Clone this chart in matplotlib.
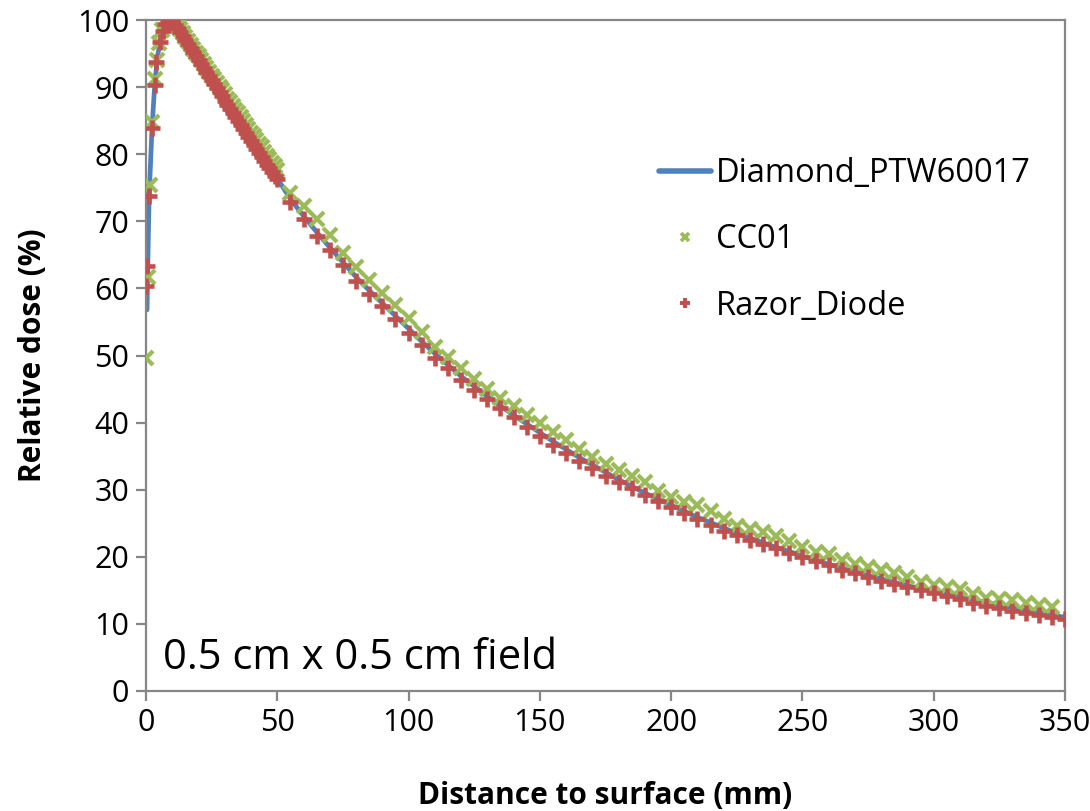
import matplotlib
matplotlib.use("Agg")
import matplotlib.pyplot as plt
from matplotlib.lines import Line2D

# ---------------- data ----------------
# Diamond_PTW60017 (line)
diamond_depth = [0.4, 0.6, 1.2, 2.3, 3.4, 4.5, 5.5, 6.5, 7.5, 8.5, 9.5, 10.5, 12, 15, 20, 25, 30, 35, 40, 45, 50,
                 55, 60, 65, 70, 75, 80, 85, 90, 95, 100, 105, 110, 115, 120, 125, 130, 135, 140, 145, 150,
                 155, 160, 165, 170, 175, 180, 185, 190, 195, 200, 205, 210, 215, 220, 225, 230, 235, 240, 245, 250,
                 255, 260, 265, 270, 275, 280, 285, 290, 295, 300, 305, 310, 315, 320, 325, 330, 335, 340, 345, 350]
diamond_dose = [56.8, 62.0, 73.8, 84.0, 90.8, 94.8, 97.2, 98.7, 99.6, 100.0, 100.0, 99.6, 98.9, 97.0, 94.0, 91.0, 88.1, 85.1, 82.2, 79.3, 76.4,
                73.3, 70.8, 68.4, 66.1, 63.9, 61.7, 59.7, 57.8, 55.9, 54.0, 52.1, 50.3, 48.6, 46.9, 45.4, 43.9, 42.5, 41.1, 39.8, 38.5,
                37.2, 36.0, 34.8, 33.7, 32.6, 31.5, 30.5, 29.5, 28.6, 27.7, 26.8, 25.9, 25.1, 24.3, 23.5, 22.8, 22.1, 21.4, 20.8, 20.1,
                19.5, 18.9, 18.3, 17.8, 17.2, 16.7, 16.2, 15.7, 15.3, 14.8, 14.4, 14.0, 13.6, 13.2, 12.8, 12.4, 12.0, 11.7, 11.3, 11.0]

# CC01 (x markers)
cc01_depth = [0, 0.8, 1.5, 2.3, 3.3, 4.0, 5.0, 6.2, 7.2, 8.2, 9.2,
              10, 11, 12, 13, 14, 15, 16, 17, 18, 19, 20, 21, 22, 23, 24, 25, 26, 27, 28, 29, 30,
              31, 32, 33, 34, 35, 36, 37, 38, 39, 40, 41, 42, 43, 44, 45, 46, 47, 48, 49, 50,
              55, 60, 65, 70, 75, 80, 85, 90, 95, 100, 105, 110, 115, 120, 125, 130, 135, 140, 145, 150,
              155, 160, 165, 170, 175, 180, 185, 190, 195, 200, 205, 210, 215, 220, 225, 230, 235, 240, 245, 250,
              255, 260, 265, 270, 275, 280, 285, 290, 295, 300, 305, 310, 315, 320, 325, 330, 335, 340, 345]
cc01_dose = [49.6, 61.7, 75.4, 84.8, 91.2, 94.0, 96.5, 98.5, 99.5, 100.0, 100.0,
             99.9, 99.6, 99.1, 98.6, 98.0, 97.4, 96.9, 96.3, 95.7, 95.1, 94.6, 94.0, 93.4, 92.9, 92.3, 91.7, 91.2, 90.6, 90.0, 89.5, 88.9,
             88.3, 87.8, 87.2, 86.6, 86.1, 85.5, 84.9, 84.4, 83.8, 83.2, 82.7, 82.1, 81.5, 81.0, 80.4, 79.8, 79.3, 78.7, 78.2, 77.6,
             74.2, 72.3, 70.3, 68.0, 65.3, 63.2, 61.3, 59.3, 57.5, 55.6, 53.5, 51.3, 49.8, 48.1, 46.5, 45.0, 43.7, 42.5, 41.1, 39.9,
             38.6, 37.4, 36.0, 34.9, 33.8, 32.9, 32.0, 31.1, 29.8, 28.9, 28.2, 27.7, 26.8, 25.6, 24.6, 24.1, 23.7, 23.1, 22.4, 21.5,
             20.7, 20.4, 19.5, 18.9, 18.5, 18.0, 17.6, 17.0, 16.2, 15.8, 15.5, 15.2, 14.5, 13.9, 13.7, 13.5, 13.1, 12.8, 12.5]

# Razor_Diode (+ markers)
razor_depth = [0, 0.5, 1.2, 2.3, 3.4, 3.8, 5.3, 6.3, 7.3, 8.3, 9.3,
               10, 11, 12, 13, 14, 15, 16, 17, 18, 19, 20, 21, 22, 23, 24, 25, 26, 27, 28, 29, 30,
               31, 32, 33, 34, 35, 36, 37, 38, 39, 40, 41, 42, 43, 44, 45, 46, 47, 48, 49, 50,
               55, 60, 65, 70, 75, 80, 85, 90, 95, 100, 105, 110, 115, 120, 125, 130, 135, 140, 145, 150,
               155, 160, 165, 170, 175, 180, 185, 190, 195, 200, 205, 210, 215, 220, 225, 230, 235, 240, 245, 250,
               255, 260, 265, 270, 275, 280, 285, 290, 295, 300, 305, 310, 315, 320, 325, 330, 335, 340, 345, 350]
razor_dose = [60.4, 63.3, 73.8, 83.9, 90.3, 93.7, 96.7, 98.4, 99.4, 99.9, 100.0,
              99.7, 99.3, 98.8, 98.2, 97.6, 97.0, 96.4, 95.8, 95.2, 94.6, 94.0, 93.4, 92.8, 92.2, 91.6, 91.0, 90.4, 89.8, 89.2, 88.6, 88.0,
              87.4, 86.8, 86.2, 85.6, 85.0, 84.4, 83.8, 83.2, 82.6, 82.0, 81.4, 80.8, 80.2, 79.6, 79.0, 78.4, 77.9, 77.3, 76.8, 76.3,
              72.9, 70.3, 67.8, 65.7, 63.5, 61.1, 59.2, 57.4, 55.4, 53.4, 51.6, 49.6, 48.1, 46.3, 44.9, 43.5, 42.2, 40.8, 39.3, 38.0,
              36.7, 35.5, 34.3, 33.2, 32.0, 31.1, 30.2, 29.2, 28.3, 27.4, 26.5, 25.6, 24.7, 23.8, 23.2, 22.5, 21.9, 21.3, 20.6, 20.0,
              19.4, 18.8, 18.0, 17.6, 17.0, 16.4, 15.9, 15.5, 15.0, 14.6, 14.2, 13.7, 13.1, 12.7, 12.4, 11.9, 11.6, 11.4, 11.0, 10.7]

x_ticks = [0, 50, 100, 150, 200, 250, 300, 350]
y_ticks = [0, 10, 20, 30, 40, 50, 60, 70, 80, 90, 100]
x_label = "Distance to surface (mm)"
y_label = "Relative dose (%)"
annotation = "0.5 cm x 0.5 cm field"
series_names = ["Diamond_PTW60017", "CC01", "Razor_Diode"]

# ---------------- plot ----------------
FONT = "Open Sans"
plt.rcParams["font.family"] = [FONT, "DejaVu Sans"]

fig = plt.figure(figsize=(10.9, 8.11), dpi=100)
ax = fig.add_axes([146 / 1090, 1 - 691 / 811, (1065 - 146) / 1090, (691 - 20) / 811])

blue = "#4F81BD"
green = "#9BBB59"
red = "#C0504D"
gray = "#868686"

ax.plot(diamond_depth, diamond_dose, color=blue, lw=3.4, solid_capstyle="round", zorder=2)
ax.plot(cc01_depth, cc01_dose, ls="none", marker="x", ms=9.5, mew=3.0, color=green, zorder=3)
ax.plot(razor_depth, razor_dose, ls="none", marker="+", ms=11.5, mew=3.3, color=red, zorder=4)

ax.set_xlim(0, 350)
ax.set_ylim(0, 100)
ax.set_xticks(x_ticks)
ax.set_yticks(y_ticks)

for s in ax.spines.values():
    s.set_color(gray)
    s.set_linewidth(1.6)

ax.tick_params(axis="both", direction="out", length=7, width=1.6, color=gray,
               labelsize=22, labelcolor="black", pad=5)

ax.set_xlabel(x_label, fontsize=21.5, fontweight="bold", labelpad=31)
ax.set_ylabel(y_label, fontsize=21.5, fontweight="bold", labelpad=21)

ax.text(0.018, 0.018, annotation, transform=ax.transAxes, fontsize=30, ha="left", va="bottom")

handles = [
    Line2D([], [], color=blue, lw=4, solid_capstyle="round"),
    Line2D([], [], ls="none", marker="x", ms=6, mew=2.6, color=green),
    Line2D([], [], ls="none", marker="+", ms=7, mew=2.8, color=red),
]
leg = ax.legend(handles, series_names, loc="upper left", bbox_to_anchor=(0.544, 0.815), frameon=False,
                fontsize=23.5, handlelength=1.6, handletextpad=0.15, labelspacing=1.02,
                borderaxespad=0)

fig.savefig("out.png", dpi=100)
